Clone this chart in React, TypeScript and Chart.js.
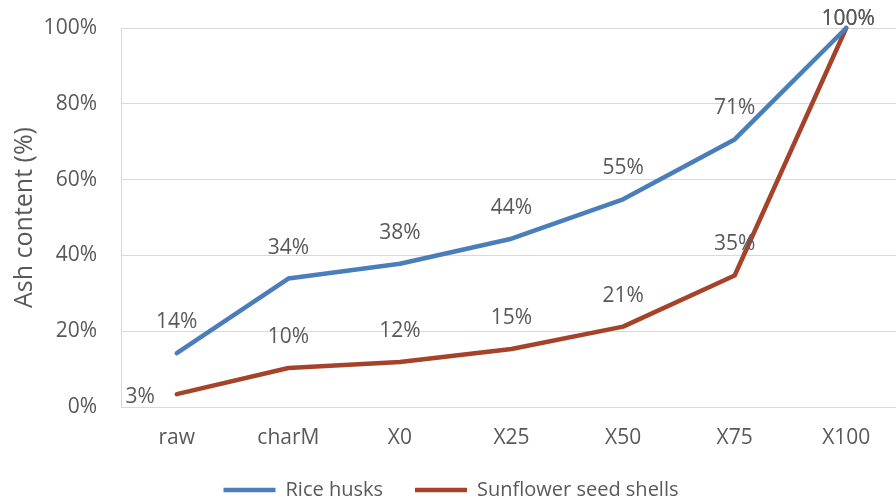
import React, { useEffect, useRef } from "react";
import { Chart, registerables } from "chart.js";

Chart.register(...registerables);

const categories = ["raw", "charM", "X0", "X25", "X50", "X75", "X100"];
const riceHusks = [14.2, 33.9, 37.8, 44.4, 54.8, 70.6, 100];
const sunflowerShells = [3.4, 10.3, 11.9, 15.3, 21.2, 34.7, 100];
const yTickValues = [0, 20, 40, 60, 80, 100];

const TEXT = "#595959";
const GRID = "#D9D9D9";
const FONT = "'Open Sans', 'Noto Sans', sans-serif";

const labelPlugin = {
  id: "pointLabels",
  afterDatasetsDraw(chart: any) {
    const ctx = chart.ctx;
    ctx.save();
    ctx.font = `21px ${FONT}`;
    ctx.fillStyle = TEXT;
    ctx.textBaseline = "middle";
    chart.data.datasets.forEach((ds: any, di: number) => {
      const meta = chart.getDatasetMeta(di);
      const placements: string[] = ds.labelPlacement || [];
      meta.data.forEach((pt: any, i: number) => {
        const v = ds.data[i];
        const text = Math.round(v) + "%";
        const place = placements[i] || "above";
        if (place === "left") {
          ctx.textAlign = "right";
          ctx.fillText(text, pt.x - 22, pt.y + 3);
        } else {
          ctx.textAlign = "center";
          let y = pt.y - 31;
          if (y < 19) y = 19;
          let x = pt.x;
          if (i === ds.data.length - 1) x += 2;
          ctx.fillText(text, x, y);
        }
      });
    });
    ctx.restore();
  },
};

export default function App() {
  const ref = useRef<HTMLCanvasElement | null>(null);
  useEffect(() => {
    if (!ref.current) return;
    const chart = new Chart(ref.current, {
      type: "line",
      data: {
        labels: categories,
        datasets: [
          {
            label: "Rice husks",
            data: riceHusks,
            borderColor: "#4A7EBB",
            backgroundColor: "#4A7EBB",
            borderWidth: 4.5,
            pointRadius: 0,
            tension: 0,
            borderCapStyle: "round",
            borderJoinStyle: "round",
            clip: false,
          } as any,
          {
            label: "Sunflower seed shells",
            data: sunflowerShells,
            borderColor: "#A5432A",
            backgroundColor: "#A5432A",
            borderWidth: 4.5,
            pointRadius: 0,
            tension: 0,
            borderCapStyle: "round",
            borderJoinStyle: "round",
            clip: false,
            labelPlacement: ["left"],
          } as any,
        ],
      },
      options: {
        responsive: false,
        animation: false,
        devicePixelRatio: 1,
        layout: { padding: { top: 28, left: 0, right: 0, bottom: 0 } },
        plugins: {
          legend: {
            position: "bottom",
            labels: {
              usePointStyle: true,
              pointStyle: "line",
              pointStyleWidth: 52,
              padding: 32,
              color: TEXT,
              font: { family: FONT, size: 20 },
            },
          },
          tooltip: { enabled: false },
        },
        scales: {
          x: {
            type: "category",
            offset: true,
            grid: { display: false },
            border: { display: true, color: GRID, width: 1 },
            ticks: {
              color: TEXT,
              font: { family: FONT, size: 21 },
              padding: 10,
              maxRotation: 0,
            },
            afterFit: (s: any) => {
              s.height = 41;
            },
          },
          y: {
            min: 0,
            max: 100,
            afterBuildTicks: (s: any) => {
              s.ticks = yTickValues.map((v) => ({ value: v }));
            },
            ticks: {
              color: TEXT,
              font: { family: FONT, size: 21 },
              padding: 24,
              callback: (v: any) => v + "%",
            },
            grid: { color: GRID, lineWidth: 1, drawTicks: false },
            border: { display: true, color: GRID, width: 1 },
            title: {
              display: true,
              text: "Ash content (%)",
              color: TEXT,
              font: { family: FONT, size: 25 },
              padding: { top: 10, bottom: 0 },
            },
            afterFit: (s: any) => {
              s.width = 121;
              s.paddingTop = 0;
            },
          },
        },
      },
      plugins: [labelPlugin],
    });
    return () => chart.destroy();
  }, []);
  return (
    <div
      style={{
        position: "fixed",
        left: 0,
        top: 0,
        width: 896,
        height: 501,
        overflow: "hidden",
        background: "#fff",
      }}
    >
      <canvas ref={ref} width={902} height={510} style={{ display: "block" }} />
    </div>
  );
}
